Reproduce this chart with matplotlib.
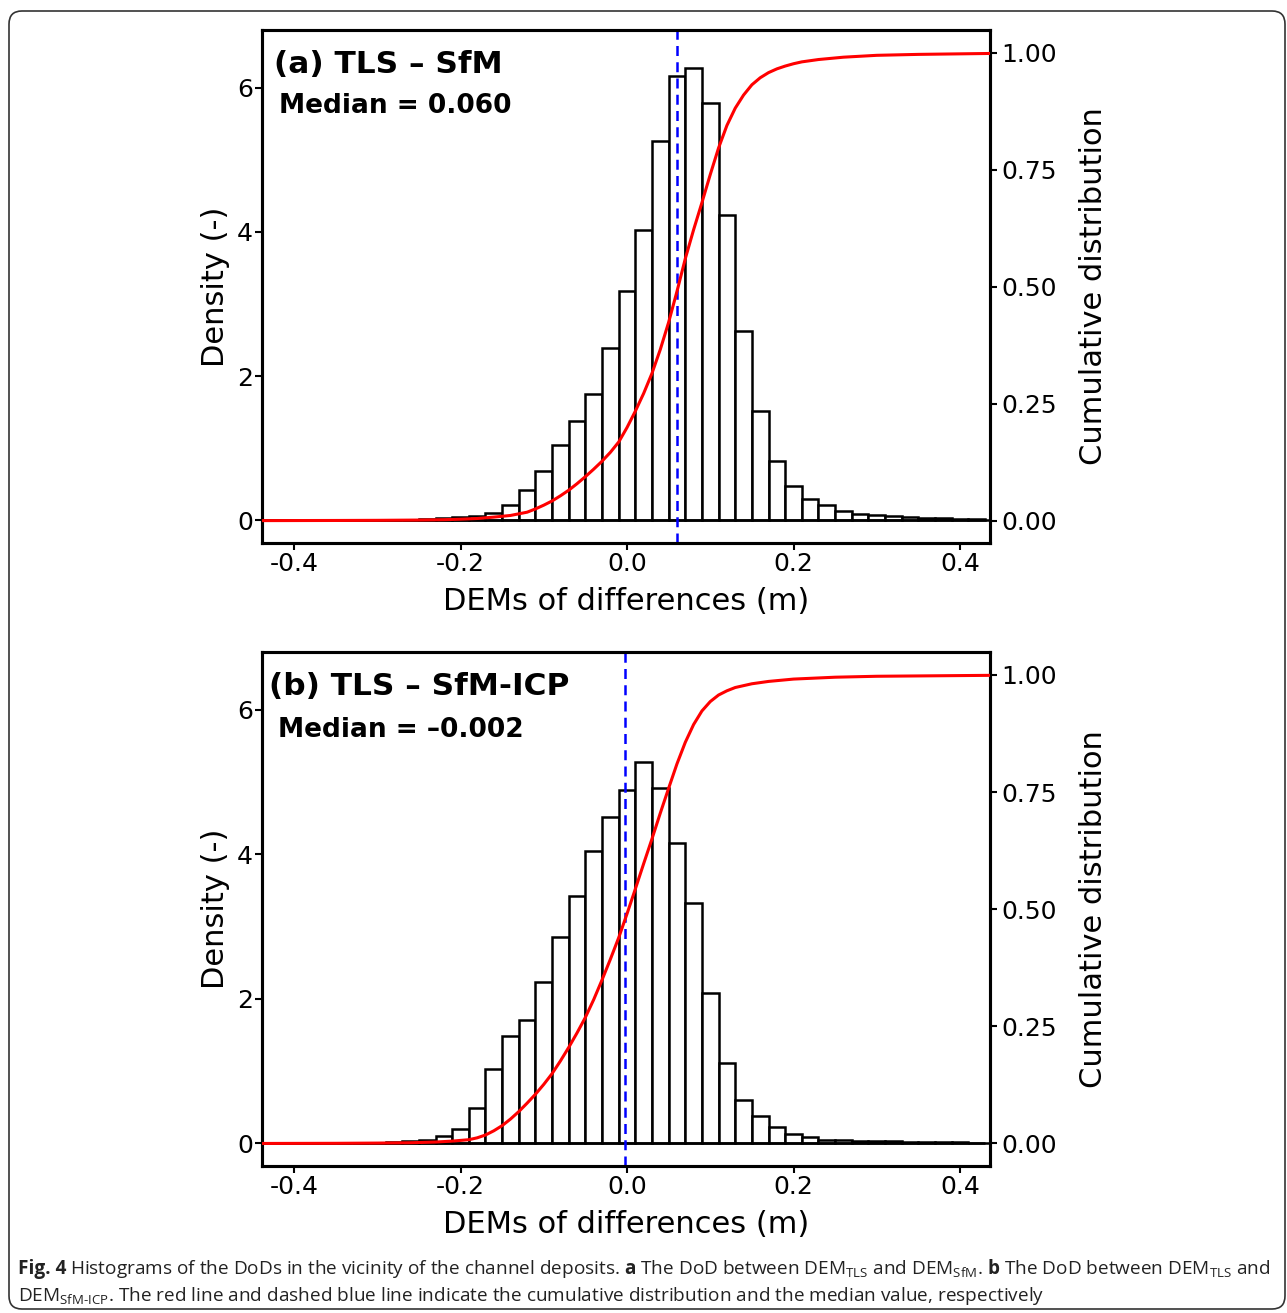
import matplotlib
matplotlib.use('Agg')
import matplotlib.pyplot as plt
from matplotlib.patches import FancyBboxPatch
import numpy as np

plt.rcParams['font.family'] = 'DejaVu Sans'
plt.rcParams['axes.unicode_minus'] = False
plt.rcParams['mathtext.fontset'] = 'custom'
plt.rcParams['mathtext.rm'] = 'Open Sans'
plt.rcParams['mathtext.bf'] = 'Open Sans:bold'

# bin centres (bin width 0.02 m)
centers = np.round(np.arange(-0.42, 0.4201, 0.02), 2)

# panel (a) TLS - SfM, density per bin
dens_a = [0.001, 0.002, 0.002, 0.002, 0.003, 0.003, 0.004, 0.005, 0.008, 0.015, 0.03,
          0.046, 0.064, 0.10, 0.21, 0.42, 0.69, 1.05, 1.38, 1.75, 2.39, 3.18,
          4.03, 5.26, 6.16, 6.28, 5.79, 4.24, 2.62, 1.51, 0.82, 0.48, 0.30,
          0.216, 0.13, 0.09, 0.07, 0.06, 0.045, 0.035, 0.028, 0.023, 0.02]
# panel (b) TLS - SfM-ICP
dens_b = [0.001, 0.002, 0.002, 0.003, 0.004, 0.006, 0.008, 0.012, 0.03, 0.05, 0.10,
          0.20, 0.49, 1.02, 1.49, 1.71, 2.23, 2.86, 3.42, 4.045, 4.515, 4.885,
          5.28, 4.91, 4.155, 3.32, 2.08, 1.11, 0.60, 0.37, 0.22, 0.13, 0.085,
          0.05, 0.04, 0.035, 0.03, 0.025, 0.02, 0.015, 0.012, 0.01, 0.008]

# cumulative distribution curves
cdf_x_a = [-0.438, -0.35, -0.30, -0.25, -0.22, -0.20, -0.18, -0.16, -0.14, -0.12, -0.11,
           -0.10, -0.09, -0.08, -0.07, -0.06, -0.05, -0.04, -0.03, -0.02, -0.01, 0.00,
           0.01, 0.02, 0.03, 0.04, 0.05, 0.06, 0.07, 0.08, 0.09, 0.10, 0.11, 0.12,
           0.13, 0.14, 0.15, 0.16, 0.17, 0.18, 0.19, 0.20, 0.21, 0.23, 0.26, 0.30,
           0.35, 0.437]
cdf_y_a = [0.0, 0.0003, 0.0006, 0.0012, 0.002, 0.003, 0.0045, 0.0075, 0.011, 0.018, 0.025,
           0.033, 0.042, 0.053, 0.065, 0.079, 0.094, 0.110, 0.127, 0.146, 0.168, 0.199,
           0.234, 0.272, 0.315, 0.366, 0.424, 0.490, 0.560, 0.622, 0.680, 0.740, 0.797, 0.845,
           0.882, 0.910, 0.932, 0.947, 0.958, 0.966, 0.972, 0.977, 0.981, 0.986, 0.991, 0.995,
           0.997, 0.999]
cdf_x_b = [-0.438, -0.35, -0.30, -0.26, -0.23, -0.21, -0.19, -0.18, -0.17, -0.16, -0.15,
           -0.14, -0.13, -0.12, -0.11, -0.10, -0.09, -0.08, -0.07, -0.06, -0.05, -0.04,
           -0.03, -0.02, -0.01, 0.00, 0.01, 0.02, 0.03, 0.04, 0.05, 0.06, 0.07, 0.08,
           0.09, 0.10, 0.11, 0.12, 0.13, 0.15, 0.17, 0.20, 0.25, 0.30, 0.437]
cdf_y_b = [0.0, 0.0003, 0.0008, 0.0015, 0.003, 0.005, 0.008, 0.012, 0.018, 0.027, 0.038,
           0.052, 0.068, 0.086, 0.105, 0.126, 0.149, 0.176, 0.205, 0.236, 0.269, 0.307,
           0.349, 0.393, 0.439, 0.490, 0.543, 0.597, 0.650, 0.705, 0.758, 0.810, 0.856, 0.894,
           0.923, 0.943, 0.957, 0.966, 0.973, 0.981, 0.986, 0.991, 0.995, 0.997, 0.999]

medians = [0.060, -0.002]
titles = ['(a) TLS \u2013 SfM', '(b) TLS \u2013 SfM-ICP']
med_labels = ['Median = 0.060', 'Median = \u20130.002']

fig = plt.figure(figsize=(12.87, 13.13), dpi=100)

boxes = [[0.2036, 0.5864, 0.5660, 0.3907], [0.2036, 0.1120, 0.5660, 0.3915]]
title_pos = [(0.0165, 0.916, 0.0233, 0.8376), (0.0096, 0.9163, 0.022, 0.8346)]
data = [(dens_a, cdf_x_a, cdf_y_a), (dens_b, cdf_x_b, cdf_y_b)]

for i in range(2):
    dens, cx, cy = data[i]
    ax = fig.add_axes(boxes[i])
    ax.bar(centers, dens, width=0.02, color='white', edgecolor='black', linewidth=1.8, zorder=2)
    ax.axhline(0, color='black', lw=1.8, zorder=2)
    ax.axvline(medians[i], color='#0000ff', lw=1.8, ls=(0, (4, 2.5)), zorder=3)
    ax.set_xlim(-0.4384, 0.4366)
    ax.set_ylim(-0.315, 6.80)
    ax.set_xticks([-0.4, -0.2, 0.0, 0.2, 0.4])
    ax.set_xticklabels(['-0.4', '-0.2', '0.0', '0.2', '0.4'])
    ax.set_yticks([0, 2, 4, 6])
    ax.tick_params(axis='both', labelsize=18, length=5, width=1.5, pad=1.5)
    ax.set_xlabel('DEMs of differences (m)', fontsize=22, labelpad=8)
    ax.set_ylabel('Density (-)', fontsize=22, labelpad=5)
    for sp in ax.spines.values():
        sp.set_linewidth(2.2)

    ax2 = ax.twinx()
    ax2.plot(cx, cy, color='#ff0000', lw=2.2, zorder=4)
    ax2.set_ylim(-0.048, 1.049)
    ax2.set_yticks([0, 0.25, 0.5, 0.75, 1.0])
    ax2.set_yticklabels(['0.00', '0.25', '0.50', '0.75', '1.00'])
    ax2.tick_params(axis='y', labelsize=18, length=5, width=1.5, pad=3)
    ax2.set_ylabel('Cumulative distribution', fontsize=22, labelpad=16)
    for sp in ax2.spines.values():
        sp.set_linewidth(2.2)

    tx, ty, mx, my = title_pos[i]
    ax.text(tx, ty, titles[i], transform=ax.transAxes, fontsize=22.5,
            fontweight='bold', va='baseline', ha='left')
    ax.text(mx, my, med_labels[i], transform=ax.transAxes, fontsize=19,
            fontweight='bold', va='baseline', ha='left')

# caption
cap_size = 13.7
y1 = 1 - 1274 / 1313
y2 = 1 - 1301 / 1313
lead = fig.text(18 / 1287, y1, 'Fig. 4', fontsize=cap_size, family='Open Sans',
                fontweight='bold', color='#222222', va='baseline')
renderer = fig.canvas.get_renderer()
bb = lead.get_window_extent(renderer)
x_rest = (bb.x1 + 4) / fig.bbox.width
line1 = (r'Histograms of the DoDs in the vicinity of the channel deposits. '
         r'$\mathbf{a}$ The DoD between DEM$_{\mathrm{TLS}}$ and DEM$_{\mathrm{SfM}}$. '
         r'$\mathbf{b}$ The DoD between DEM$_{\mathrm{TLS}}$ and')
line2 = (r'DEM$_{\mathrm{SfM\text{-}ICP}}$. The red line and dashed blue line indicate the '
         r'cumulative distribution and the median value, respectively')
fig.text(x_rest, y1, line1, fontsize=cap_size, family='Open Sans',
         color='#222222', va='baseline')
fig.text(18 / 1287, y2, line2, fontsize=cap_size, family='Open Sans',
         color='#222222', va='baseline')

frame = FancyBboxPatch((9 / 1287, 4 / 1313), 1276 / 1287, 1298 / 1313,
                       boxstyle='round,pad=0,rounding_size=0.01',
                       transform=fig.transFigure, fill=False,
                       edgecolor='#333333', lw=1.2)
fig.patches.append(frame)

fig.savefig('out.png', dpi=100)
